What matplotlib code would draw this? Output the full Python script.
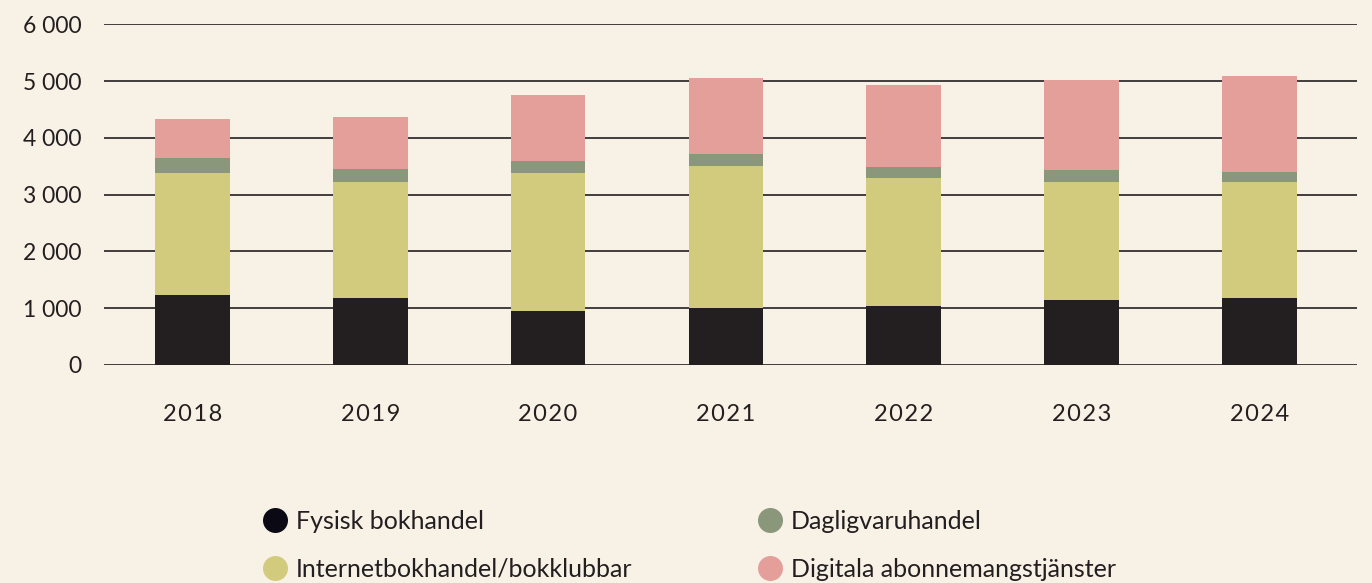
import matplotlib.pyplot as plt
from matplotlib.lines import Line2D

# data
years = ["2018", "2019", "2020", "2021", "2022", "2023", "2024"]
fysisk = [1232, 1180, 951, 1004, 1039, 1144, 1180]
internet = [2148, 2042, 2429, 2500, 2253, 2078, 2042]
dagligvaru = [264, 229, 212, 211, 194, 211, 176]
digitala = [687, 915, 1162, 1338, 1444, 1585, 1690]

serier = ["Fysisk bokhandel", "Internetbokhandel/bokklubbar",
          "Dagligvaruhandel", "Digitala abonnemangstjänster"]
farger = ["#231f20", "#d2cb7d", "#8b977a", "#e59f9b"]
legend_farger = ["#0b0a14", "#d2cb7d", "#8b977a", "#e59f9b"]
bg = "#f8f2e6"

plt.rcParams['font.family'] = ['Lato', 'DejaVu Sans']

fig = plt.figure(figsize=(13.72, 5.83), dpi=100, facecolor=bg)
ax = fig.add_axes([0.0758, 0.374, 0.913, 0.584], facecolor=bg)

x = list(range(len(years)))
bottom = [0] * len(years)
for vals, c in zip([fysisk, internet, dagligvaru, digitala], farger):
    ax.bar(x, vals, 0.42, bottom=bottom, color=c, zorder=2)
    bottom = [b + v for b, v in zip(bottom, vals)]

ax.set_ylim(0, 6000)
ax.set_xlim(-0.498, 6.548)
ticks = [0, 1000, 2000, 3000, 4000, 5000, 6000]
ax.set_yticks(ticks)
ax.set_yticklabels(["0" if t == 0 else f"{t // 1000} 000" for t in ticks])
for t in ticks:
    ax.axhline(t, color="#231f20", lw=1.2, zorder=3 if t == 0 else 1)
for s in ax.spines.values():
    s.set_visible(False)
ax.tick_params(axis="y", length=0, pad=16, labelsize=16.5, labelcolor="#231f20")
ax.tick_params(axis="x", length=0, pad=28, labelsize=17, labelcolor="#231f20")
ax.set_xticks(x)
# letter spaced year labels like the original
ax.set_xticklabels(["\u200a".join(y) for y in years])

handles = [Line2D([], [], marker="o", ls="none", markersize=18,
                  markerfacecolor=legend_farger[i], markeredgecolor="none")
           for i in range(4)]
fig.legend(handles, serier, ncol=2, loc="center left",
           bbox_to_anchor=(0.1655, 0.065), frameon=False, fontsize=18,
           handletextpad=-0.15, columnspacing=4.5, labelspacing=1.0,
           labelcolor="#231f20")

fig.savefig("out.png", dpi=100, facecolor=bg)
